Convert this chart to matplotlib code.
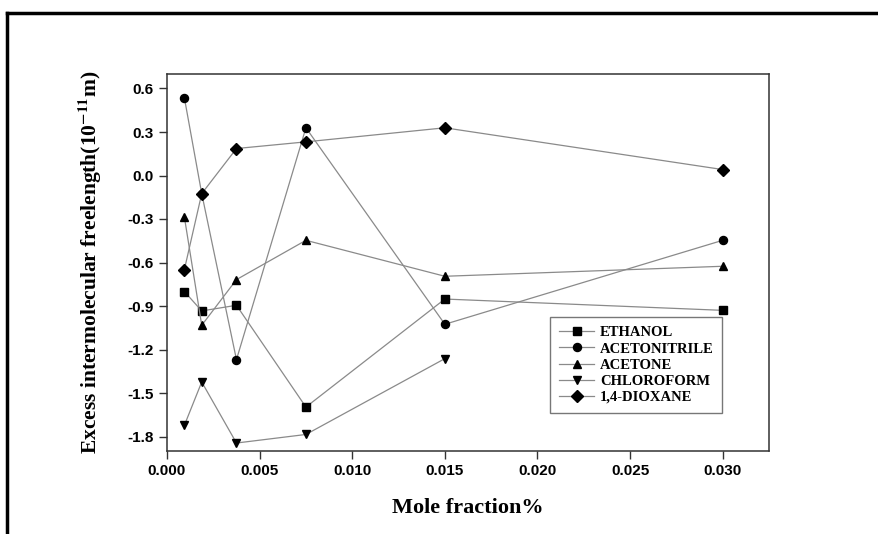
import matplotlib
matplotlib.use('Agg')
import matplotlib.pyplot as plt
from matplotlib.lines import Line2D

# mole fraction values (halving series)
mole_frac = [0.0009375, 0.001875, 0.00375, 0.0075, 0.015, 0.030]

ethanol = [-0.80, -0.934, -0.895, -1.597, -0.852, -0.93]
acetonitrile = [0.536, -0.125, -1.27, 0.329, -1.026, -0.447]
acetone = [-0.286, -1.033, -0.718, -0.447, -0.695, -0.626]
chloroform = [-1.723, -1.424, -1.845, -1.786, -1.263]
dioxane = [-0.649, -0.125, 0.186, 0.232, 0.329, 0.041]

plt.rcParams['mathtext.fontset'] = 'stix'

fig = plt.figure(figsize=(8.79, 5.34), dpi=100)
W, H = 879, 534
ax = fig.add_axes([167 / W, 1 - 451 / H, (769 - 167) / W, (451 - 74) / H])

line_kw = dict(color='#8a8a8a', lw=0.9, mfc='black', mec='black', ms=5.8)

ax.plot(mole_frac, ethanol, marker='s', label='ETHANOL', **line_kw)
ax.plot(mole_frac, acetonitrile, marker='o', label='ACETONITRILE', **line_kw)
ax.plot(mole_frac, acetone, marker='^', label='ACETONE', **line_kw)
ax.plot(mole_frac[:5], chloroform, marker='v', label='CHLOROFORM', **line_kw)
ax.plot(mole_frac, dioxane, marker='D', label='1,4-DIOXANE', **line_kw)

ax.set_xlim(0, 0.0325)
ax.set_ylim(-1.9, 0.7)
ax.set_xticks([0.000, 0.005, 0.010, 0.015, 0.020, 0.025, 0.030])
ax.set_yticks([0.6, 0.3, 0.0, -0.3, -0.6, -0.9, -1.2, -1.5, -1.8])
ax.xaxis.set_major_formatter(matplotlib.ticker.FormatStrFormatter('%.3f'))
ax.yaxis.set_major_formatter(matplotlib.ticker.FormatStrFormatter('%.1f'))

for lab in ax.get_xticklabels() + ax.get_yticklabels():
    lab.set_fontfamily('Liberation Sans')
    lab.set_fontweight('bold')
    lab.set_fontsize(11)
ax.tick_params(direction='out', length=6, width=1, color='#333333')
for sp in ax.spines.values():
    sp.set_color('#333333')
    sp.set_linewidth(1.1)

ax.set_xlabel('Mole fraction%', family='Liberation Serif', weight='bold',
              fontsize=16, labelpad=14)
ax.set_ylabel(r'Excess intermolecular freelength(10$^{\mathbf{-11}}$m)',
              family='Liberation Serif', weight='bold', fontsize=15.5, labelpad=17)

leg = ax.legend(loc='lower right', bbox_to_anchor=(0.93, 0.09),
                prop={'family': 'Liberation Serif', 'weight': 'bold', 'size': 10.5},
                frameon=True, fancybox=False, edgecolor='#555555',
                handlelength=2.4, labelspacing=0.2, borderpad=0.6,
                handletextpad=0.4, borderaxespad=0.3)
leg.get_frame().set_linewidth(1.0)

# outer border of the picture (top and left edges)
fig.add_artist(Line2D([7 / W, 1.0], [1 - 13 / H, 1 - 13 / H],
                      transform=fig.transFigure, color='black', lw=2.5))
fig.add_artist(Line2D([7 / W, 7 / W], [0.0, 1 - 13 / H],
                      transform=fig.transFigure, color='black', lw=2.5))

fig.savefig('out.png', dpi=100)
